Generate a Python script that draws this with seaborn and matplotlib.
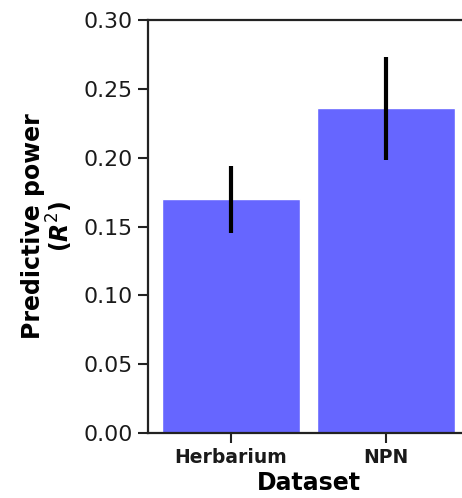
import matplotlib
matplotlib.use("Agg")
import matplotlib.pyplot as plt
import seaborn as sns
import pandas as pd

datasets = ["Herbarium", "NPN"]
r2_values = [0.170, 0.236]
ci_low = [0.145, 0.198]
ci_high = [0.194, 0.273]

sns.set_style("ticks")
plt.rcParams['font.family'] = ['DejaVu Sans']

df = pd.DataFrame({"Dataset": datasets, "R2": r2_values})

fig = plt.figure(figsize=(4.62, 4.98), dpi=100)
ax = fig.add_axes([0.320, 0.1305, 0.695, 0.8293])

sns.barplot(data=df, x="Dataset", y="R2", color="#6666ff", saturation=1,
            width=0.89, errorbar=None, ax=ax)
for i, (lo, hi) in enumerate(zip(ci_low, ci_high)):
    ax.plot([i, i], [lo, hi], color="black", lw=3, solid_capstyle="butt", zorder=3)

ax.set_xlim(-0.535, 1.535)
ax.set_ylim(0, 0.30)
ax.set_yticks([0, 0.05, 0.10, 0.15, 0.20, 0.25, 0.30])
ax.set_yticklabels(["0.00", "0.05", "0.10", "0.15", "0.20", "0.25", "0.30"],
                   fontsize=15.8, color="#1a1a1a")
for lab in ax.get_xticklabels():
    lab.set_fontweight("bold")
    lab.set_fontsize(13.5)
    lab.set_color("#1a1a1a")
ax.set_xlabel("Dataset", fontsize=17, fontweight="bold", color="black", labelpad=3)
ax.set_ylabel("Predictive power\n($\\boldsymbol{R}^2$)", fontsize=17,
              fontweight="bold", color="black", labelpad=6, linespacing=1.0)
ax.tick_params(axis="both", length=7, width=1.5, color="#222222", pad=4)
for s in ax.spines.values():
    s.set_linewidth(1.6)
    s.set_color("#222222")

fig.savefig("out.png", dpi=100)
